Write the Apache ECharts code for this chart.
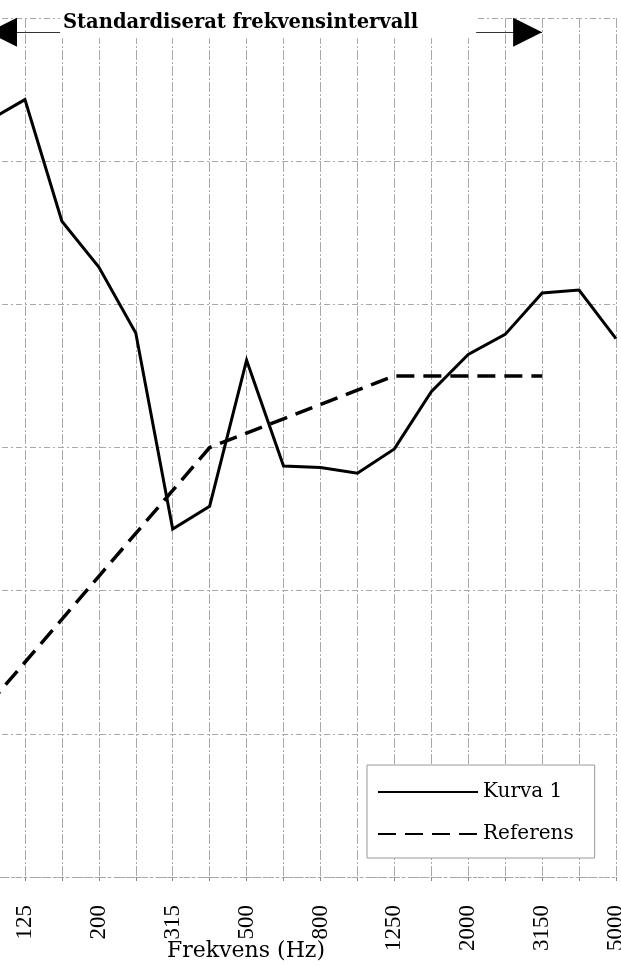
<!DOCTYPE html>
<html>
<head>
<meta charset="utf-8">
<script src="https://cdn.jsdelivr.net/npm/echarts@6/dist/echarts.min.js"></script>
<style>
html,body{margin:0;padding:0;background:#fff;}
#chart{width:621px;height:965px;}
</style>
</head>
<body>
<div id="chart"></div>
<script>
// Third-octave band centre frequencies (Hz)
const frequencies = ['100','125','160','200','250','315','400','500','630','800','1000','1250','1600','2000','2500','3150','4000','5000'];
// Measured curve (dB)
const kurva1 = [72.8, 74.3, 65.8, 62.6, 58.0, 44.3, 45.9, 56.1, 48.7, 48.6, 48.2, 49.9, 53.9, 56.5, 57.9, 60.8, 61.0, 57.6];
// Shifted reference curve (dB), defined 100–3150 Hz
const referens = [32, 35, 38, 41, 44, 47, 50, 51, 52, 53, 54, 55, 55, 55, 55, 55, null, null];
// Standardised frequency interval shown at the top
const standardRange = ['100', '3150'];
const rangeLevel = 79;
const rangeTitle = 'Standardiserat frekvensintervall';
const xTitle = 'Frekvens (Hz)';
const seriesNames = ['Kurva 1', 'Referens'];
const yMin = 20, yMax = 80, yStep = 10;

const chart = echarts.init(document.getElementById('chart'));
const gridColor = '#a8a8a8';
chart.setOption({
  animation: false,
  backgroundColor: '#fff',
  grid: { left: -12, right: 5, top: 18, bottom: 88, containLabel: false, outerBoundsMode: 'none' },
  legend: {
    orient: 'vertical',
    left: 367, top: 765,
    padding: [15, 21, 12, 10],
    itemWidth: 100, itemHeight: 24, itemGap: 18,
    backgroundColor: '#fff',
    borderColor: '#999', borderWidth: 1,
    selectedMode: false,
    itemStyle: { color: 'rgba(0,0,0,0)', borderWidth: 0, opacity: 0 },
    textStyle: { fontFamily: 'DejaVu Serif', fontSize: 20, color: '#000', lineHeight: 24 },
    data: seriesNames
  },
  xAxis: {
    type: 'category',
    data: frequencies,
    boundaryGap: false,
    name: xTitle,
    nameLocation: 'middle',
    nameGap: 63,
    nameMoveOverlap: false,
    nameTextStyle: { fontFamily: 'DejaVu Serif', fontSize: 22, color: '#000', padding: [0, 112, 0, 0] },
    axisLine: { show: true, lineStyle: { color: gridColor, width: 1, type: [3, 3] } },
    axisTick: { show: true, interval: 0, length: 4, lineStyle: { color: '#888' } },
    axisLabel: {
      interval: function (i) { return i % 2 === 1; },
      rotate: 90,
      margin: 28,
      fontFamily: 'Liberation Serif',
      fontSize: 23,
      color: '#000',
      padding: [0, 0, 14, 0]
    },
    splitLine: { show: true, interval: 0, lineStyle: { color: gridColor, width: 1, type: [10, 2, 2, 2] } }
  },
  yAxis: {
    type: 'value',
    min: yMin, max: yMax, interval: yStep,
    axisLine: { show: false },
    axisTick: { show: false },
    axisLabel: { show: false },
    splitLine: { show: true, lineStyle: { color: gridColor, width: 1, type: [6, 3, 2, 3] } }
  },
  series: [
    {
      name: seriesNames[0],
      type: 'line',
      data: kurva1,
      symbol: 'none',
      z: 3,
      lineStyle: { color: '#000', width: 3, join: 'miter' },
      itemStyle: { color: '#000' },
      markLine: {
        silent: true,
        animation: false,
        symbol: ['triangle', 'triangle'],
        symbolSize: [29, 29],
        symbolOffset: [[0, '50%'], [0, '50%']],
        lineStyle: { color: '#000', width: 0.8, type: 'solid' },
        label: {
          show: true,
          position: 'middle',
          distance: 0,
          offset: [3, 6],
          formatter: rangeTitle,
          fontFamily: 'DejaVu Serif',
          fontWeight: 'bold',
          fontSize: 19.5,
          lineHeight: 20,
          color: '#000',
          backgroundColor: '#fff',
          padding: [3, 58, 5, 3]
        },
        data: [[
          { coord: [standardRange[0], rangeLevel] },
          { coord: [standardRange[1], rangeLevel] }
        ]]
      }
    },
    {
      name: seriesNames[1],
      type: 'line',
      data: referens,
      symbol: 'none',
      z: 2,
      lineStyle: { color: '#000', width: 3.5, type: [18, 9], join: 'miter' },
      itemStyle: { color: '#000' }
    }
  ]
});
</script>
</body>
</html>
